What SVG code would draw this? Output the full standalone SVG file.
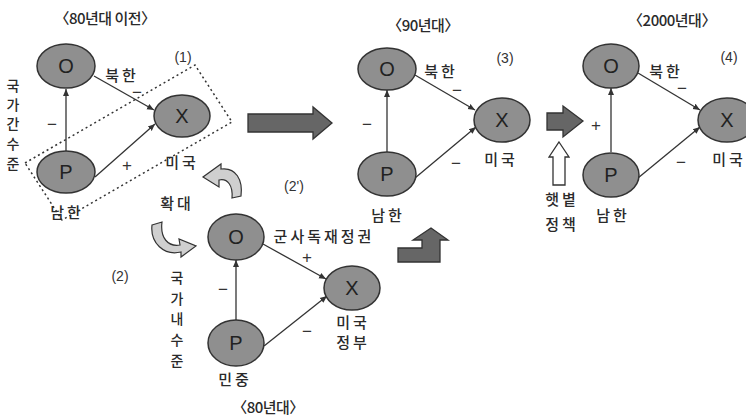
<svg xmlns="http://www.w3.org/2000/svg" width="746" height="419" viewBox="0 0 746 419">
<defs>
<marker id="ah" markerWidth="8" markerHeight="8" refX="7" refY="4" orient="auto" markerUnits="userSpaceOnUse">
<path d="M0,1 L7,4 L0,7 Z" fill="#333"/>
</marker>
<style>
.nd{fill:#8f8f8f;stroke:#333;stroke-width:1.5}
.lt{font-family:"Liberation Sans","Noto Sans CJK KR",sans-serif;font-size:20px;fill:#222;text-anchor:middle}
.kr{font-family:"Noto Sans CJK KR","Liberation Sans",sans-serif;font-size:15px;font-weight:500;fill:#2a2a2a;text-anchor:middle;letter-spacing:3px}
.ttl{font-family:"Noto Sans CJK KR","Liberation Sans",sans-serif;font-size:15px;font-weight:500;fill:#2a2a2a;text-anchor:middle;letter-spacing:-0.5px}
.sg{font-family:"Liberation Sans",sans-serif;font-size:17px;fill:#333;text-anchor:middle}
.num{font-family:"Liberation Sans",sans-serif;font-size:14px;fill:#333;text-anchor:middle}
.ln{stroke:#333;stroke-width:1.3;fill:none;marker-end:url(#ah)}
.blk{fill:#666;stroke:#333;stroke-width:1.3}
.cur{fill:#cfcfcf;stroke:#333;stroke-width:1.2}
.wht{fill:#fff;stroke:#333;stroke-width:1.3}
</style>
</defs>
<rect width="746" height="419" fill="#fff"/>

<!-- titles and labels -->
<g id="labels">
<text class="ttl" x="105" y="24">〈80년대 이전〉</text>
<text class="ttl" x="423" y="31">〈90년대〉</text>
<text class="ttl" x="672" y="26">〈2000년대〉</text>
<text class="ttl" x="268" y="413">〈80년대〉</text>
<text class="num" x="183" y="62">(1)</text>
<text class="num" x="505" y="63">(3)</text>
<text class="num" x="729" y="62">(4)</text>
<text class="num" x="294" y="191">(2')</text>
<text class="num" x="120" y="281">(2)</text>
<g class="kr" style="letter-spacing:0;font-size:14px">
<text x="13" y="91">국</text>
<text x="13" y="110">가</text>
<text x="13" y="129">간</text>
<text x="13" y="149">수</text>
<text x="13" y="169">준</text>
<text x="177" y="283">국</text>
<text x="177" y="304">가</text>
<text x="177" y="324">내</text>
<text x="177" y="345">수</text>
<text x="177" y="366">준</text>
</g>
<text class="kr" x="177" y="209">확대</text>
<text class="kr" x="562" y="205">햇볕</text>
<text class="kr" x="562" y="230">정책</text>
</g>

<!-- dashed frame -->
<polygon points="25,163 195,65 232,122 62,220" fill="none" stroke="#333" stroke-width="1.5" stroke-dasharray="2,3"/>

<!-- connectors -->
<g id="connectors">
<line class="ln" x1="94" y1="76" x2="154" y2="110"/>
<line class="ln" x1="66" y1="151" x2="66" y2="89"/>
<line class="ln" x1="95" y1="177" x2="155" y2="124"/>
<line class="ln" x1="415" y1="75" x2="475" y2="110"/>
<line class="ln" x1="387" y1="152" x2="387" y2="90"/>
<line class="ln" x1="415" y1="178" x2="476" y2="127"/>
<line class="ln" x1="638" y1="73" x2="700" y2="110"/>
<line class="ln" x1="611" y1="152" x2="611" y2="88"/>
<line class="ln" x1="638" y1="178" x2="700" y2="127"/>
<line class="ln" x1="263" y1="244" x2="326" y2="279"/>
<line class="ln" x1="236" y1="320" x2="236" y2="260"/>
<line class="ln" x1="264" y1="346" x2="327" y2="296"/>
</g>

<!-- sign labels -->
<g id="signs">
<text class="sg" x="137" y="98">−</text>
<text class="sg" x="52" y="130">−</text>
<text class="sg" x="127" y="171">+</text>
<text class="sg" x="457" y="96">−</text>
<text class="sg" x="367" y="130">−</text>
<text class="sg" x="456" y="169">−</text>
<text class="sg" x="682" y="94">−</text>
<text class="sg" x="596" y="131">+</text>
<text class="sg" x="681" y="168">−</text>
<text class="sg" x="307" y="263">+</text>
<text class="sg" x="223" y="295">−</text>
<text class="sg" x="307" y="337">−</text>
</g>

<!-- diagram 1 nodes -->
<g id="n1-O"><ellipse class="nd" cx="66" cy="66" rx="29" ry="22"/><text class="lt" x="66" y="73">O</text><text class="kr" x="122" y="81">북한</text></g>
<g id="n1-X"><ellipse class="nd" cx="182" cy="116" rx="28" ry="21"/><text class="lt" x="182" y="123">X</text><text class="kr" x="182" y="168">미국</text></g>
<g id="n1-P"><ellipse class="nd" cx="66" cy="172" rx="29" ry="21"/><text class="lt" x="66" y="179">P</text><text class="kr" x="67" y="218">남한</text></g>

<!-- diagram 3 nodes -->
<g id="n3-O"><ellipse class="nd" cx="387" cy="69" rx="29" ry="21"/><text class="lt" x="387" y="76">O</text><text class="kr" x="441" y="77">북한</text></g>
<g id="n3-X"><ellipse class="nd" cx="502" cy="120" rx="28" ry="22"/><text class="lt" x="502" y="127">X</text><text class="kr" x="501" y="165">미국</text></g>
<g id="n3-P"><ellipse class="nd" cx="387" cy="174" rx="29" ry="22"/><text class="lt" x="387" y="181">P</text><text class="kr" x="388" y="221">남한</text></g>

<!-- diagram 4 nodes -->
<g id="n4-O"><ellipse class="nd" cx="611" cy="66" rx="28" ry="22"/><text class="lt" x="611" y="73">O</text><text class="kr" x="666" y="77">북한</text></g>
<g id="n4-X"><ellipse class="nd" cx="727" cy="120" rx="29" ry="22"/><text class="lt" x="727" y="127">X</text><text class="kr" x="729" y="165">미국</text></g>
<g id="n4-P"><ellipse class="nd" cx="611" cy="175" rx="28" ry="22"/><text class="lt" x="611" y="182">P</text><text class="kr" x="613" y="221">남한</text></g>

<!-- diagram 2' nodes -->
<g id="n2-O"><ellipse class="nd" cx="236" cy="237" rx="28" ry="23"/><text class="lt" x="236" y="244">O</text><text class="kr" x="324" y="242">군사독재정권</text></g>
<g id="n2-X"><ellipse class="nd" cx="352" cy="288" rx="28" ry="22"/><text class="lt" x="352" y="295">X</text><text class="kr" x="353" y="328">미국</text><text class="kr" x="353" y="348">정부</text></g>
<g id="n2-P"><ellipse class="nd" cx="236" cy="343" rx="28" ry="23"/><text class="lt" x="236" y="350">P</text><text class="kr" x="235" y="385">민중</text></g>

<!-- block arrows -->
<g id="arrows">
<polygon class="blk" points="248,114 313,114 313,107 332,123 313,139 313,132 248,132"/>
<polygon class="blk" points="547,113 563,113 563,106 583,121 563,137 563,130 547,130"/>
<polygon class="blk" points="398,248 422,248 422,240 413,240 431,228 448,240 440,240 440,262 398,262"/>
<polygon class="wht" points="559,142 569,157 565,157 565,185 553,185 553,157 549,157"/>
<path class="cur" d="M232,198 L241,196 C243,180 236,167 221,169 L221,164 L203,177 L219,187 L219,180 C228,178 233,186 232,198 Z"/>
<path class="cur" d="M152,225 L162,222 C160,238 168,247 180,245 L179,239 L196,246 L181,257 L181,252 C164,256 150,243 152,225 Z"/>
</g>
</svg>
